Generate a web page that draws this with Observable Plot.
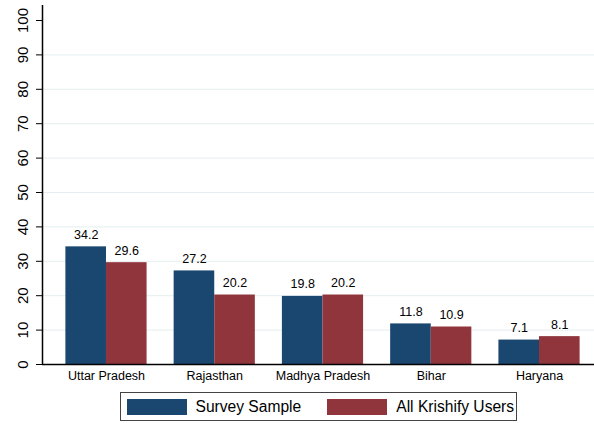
<!DOCTYPE html>
<html>
<head>
<meta charset="utf-8">
<script src="https://cdn.jsdelivr.net/npm/d3@7"></script>
<script src="https://cdn.jsdelivr.net/npm/@observablehq/plot@0.6"></script>
<style>
  body { margin: 0; background: #fff; font-family: "Liberation Sans", Arial, sans-serif; }
  #chart svg { display: block; }
  #legendwrap { width: 552px; margin-left: 42px; margin-top: 2px; display: flex; justify-content: center; }
  #legendbox { box-sizing: border-box; width: 397px; height: 29px; border: 1.5px solid #444; display: flex; align-items: center; padding-left: 6px; overflow: hidden; }
  #legendbox .lg-swatches { display: flex !important; flex-wrap: nowrap !important; align-items: center !important; margin: 0 !important; min-height: 0 !important; font-family: "Liberation Sans", Arial, sans-serif !important; font-size: 15.6px !important; color: #000; white-space: nowrap; }
  #legendbox .lg-swatch { display: inline-flex !important; align-items: center !important; margin-right: 26px !important; margin-bottom: 0 !important; white-space: nowrap; }
  #legendbox .lg-swatch:last-child { margin-right: 0 !important; }
  #legendbox .lg-swatch > svg { margin-right: 9px !important; flex-shrink: 0; }
</style>
</head>
<body>
<div id="chart"></div>
<div id="legendwrap"><div id="legendbox"></div></div>
<script>
const states = ["Uttar Pradesh", "Rajasthan", "Madhya Pradesh", "Bihar", "Haryana"];
const seriesNames = ["Survey Sample", "All Krishify Users"];
const surveySample = [34.2, 27.2, 19.8, 11.8, 7.1];
const allUsers = [29.6, 20.2, 20.2, 10.9, 8.1];
const yTicks = [0, 10, 20, 30, 40, 50, 60, 70, 80, 90, 100];
const gridValues = [10, 20, 30, 40, 50, 60, 70, 80, 90];
const colors = ["#1a476f", "#90353b"];

const halfGroup = 0.375;
const rows = [];
states.forEach((s, i) => {
  rows.push({state: s, i, series: seriesNames[0], value: surveySample[i], x1: i - halfGroup, x2: i});
  rows.push({state: s, i, series: seriesNames[1], value: allUsers[i], x1: i, x2: i + halfGroup});
});

const xDomain = [-0.591, 4.508];
const font = "'Liberation Sans', Arial, sans-serif";

const chart = Plot.plot({
  width: 594,
  height: 390,
  marginLeft: 42,
  marginRight: 0,
  marginTop: 5,
  marginBottom: 26,
  style: {fontFamily: font, background: "#fff", color: "#000"},
  x: {domain: xDomain, axis: null},
  y: {domain: [0, 104.36], axis: null},
  color: {domain: seriesNames, range: colors},
  marks: [
    Plot.ruleY(gridValues, {stroke: "#e4eef0", strokeWidth: 1}),
    Plot.rectY(rows, {x1: "x1", x2: "x2", y1: 0, y2: "value", fill: "series"}),
    Plot.text(rows, {x: d => (d.x1 + d.x2) / 2, y: "value", text: d => d.value.toFixed(1), lineAnchor: "bottom", dy: -8, fontSize: 12.5, fill: "#000"}),
    Plot.axisY({ticks: yTicks, tickSize: 6, tickFormat: () => "", label: null, stroke: "#000", strokeWidth: 1}),
    Plot.text(yTicks, {y: d => d, text: d => String(d), frameAnchor: "left", dx: -19.5, rotate: -90, textAnchor: "middle", lineAnchor: "middle", fontSize: 15, fill: "#000"}),
    Plot.axisX({ticks: d3.range(states.length), tickFormat: i => states[i], tickSize: 0, tickPadding: 7, fontSize: 12.5, anchor: "bottom", label: null}),
    Plot.ruleY([0], {stroke: "#000", strokeWidth: 1.5}),
    Plot.ruleX([xDomain[0]], {stroke: "#000", strokeWidth: 1.5})
  ]
});
document.getElementById("chart").appendChild(chart);

const legend = Plot.legend({
  color: {domain: seriesNames, range: colors, type: "ordinal"},
  legend: "swatches",
  swatchWidth: 60,
  swatchHeight: 16,
  className: "lg"
});
document.getElementById("legendbox").appendChild(legend);
</script>
</body>
</html>
